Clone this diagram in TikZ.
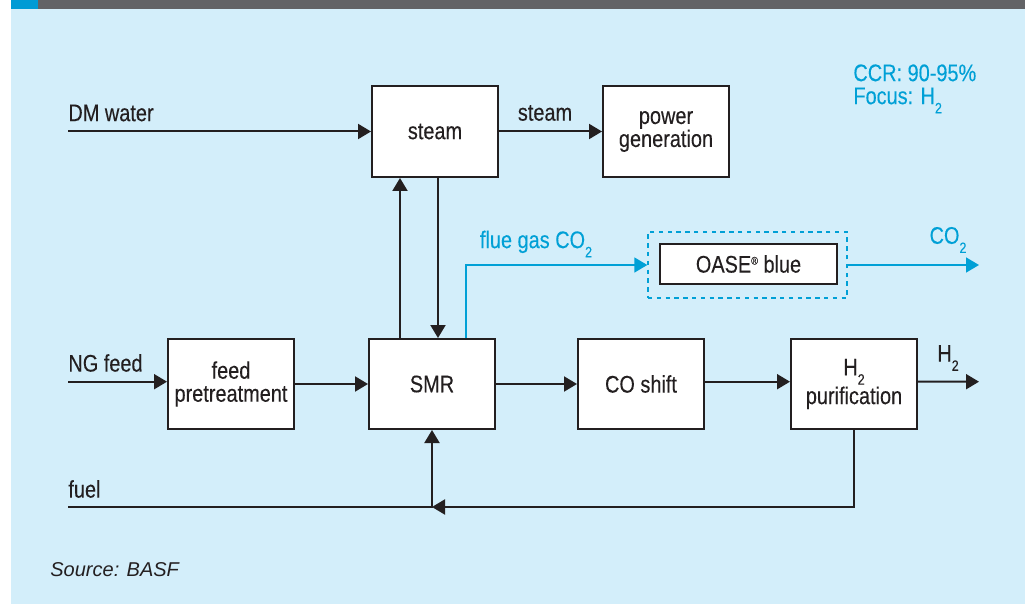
\documentclass[tikz,border=0pt]{standalone}
\usepackage{fontspec}
\setmainfont{Liberation Sans}[FakeStretch=0.83,FakeBold=0.2]
\newfontfamily\srcfont{Liberation Sans}
\usetikzlibrary{arrows.meta}
\definecolor{panel}{RGB}{211,238,250}
\definecolor{band}{RGB}{98,99,102}
\definecolor{tab}{RGB}{0,155,213}
\definecolor{ink}{RGB}{35,31,32}
\definecolor{gas}{RGB}{0,160,214}
\newcommand\lowtwo{\raisebox{-4.6pt}{\fontsize{7.5}{7.5}\selectfont 2}}
\newcommand\regmark{\raisebox{4pt}{\fontsize{5.5}{5.5}\selectfont\textregistered}}

\begin{document}
\begin{tikzpicture}[
  x=0.5pt,y=-0.5pt,
  font=\fontsize{12}{11.5}\selectfont,
  unit/.style={draw=ink,line width=1pt,fill=white,minimum width=63pt,minimum height=45.5pt,align=center,inner sep=1pt,text=ink},
  flow/.style={draw=ink,line width=1pt,-{Triangle[length=6.5pt,width=7.5pt]}},
  gasflow/.style={flow,draw=gas,line width=0.8pt},
  lbl/.style={inner sep=0pt,text=ink},
  note/.style={lbl,text=gas,align=left}
]
  % frame
  \useasboundingbox (0,0) rectangle (1031,604);
  \fill[white] (0,0) rectangle (1031,604);
  \fill[panel] (11,9) rectangle (1025,604);
  \fill[band] (11,0) rectangle (1025,9);
  \fill[tab] (11,0) rectangle (38,9);

  % units
  \node[unit] (steam) at (435,131.5) {steam};
  \node[unit] (power) at (666,131.5) {power\\generation};
  \node[unit,minimum height=45pt] (pretreat) at (231,384) {feed\\pretreatment};
  \node[unit,minimum height=45pt] (smr) at (432,384) {SMR};
  \node[unit,minimum height=45pt] (shift) at (641,384) {CO shift};
  \node[unit,minimum height=45pt] (purif) at (854,384) {H\lowtwo\\purification};
  \node[draw=gas,line width=0.7pt,dash pattern=on 2.2pt off 2.2pt,minimum width=99.5pt,minimum height=33pt] (capture) at (747.5,265) {};
  \node[unit,minimum width=88.5pt,minimum height=20pt] (oase) at (748.5,264) {OASE\regmark\ blue};

  % free ends
  \coordinate (dm) at (68,131.5);
  \coordinate (ng) at (68,381.7);
  \coordinate (fuel) at (68,507);
  \coordinate (fuelj) at (432,507);
  \coordinate (co2out) at (979,265);
  \coordinate (h2out) at (979,381.7);

  % streams
  \draw[flow] (dm) -- (steam.west);
  \draw[flow] (steam) -- (power);
  \draw[flow] ([xshift=-16pt]smr.north) -- ([xshift=-16pt]smr.north |- steam.south);
  \draw[flow] ([xshift=1.5pt]steam.south) -- ([xshift=1.5pt]steam.south |- smr.north);
  \draw[gasflow] ([xshift=17pt]smr.north) |- (capture.west);
  \draw[gasflow] (capture.east) -- (co2out);
  \draw[flow] (ng) -- (ng -| pretreat.west);
  \draw[flow] (pretreat) -- (smr);
  \draw[flow] (smr) -- (shift);
  \draw[flow] ([yshift=1.15pt]shift.east) -- ([yshift=1.15pt]purif.west);
  \draw[flow] ([yshift=1.15pt]purif.east) -- (h2out);
  \draw[flow] (purif.south) |- (fuelj);
  \draw[flow] (fuel) -- (fuelj) -- (smr.south);

  % labels
  \node[lbl,anchor=west] (dmlbl) at (68,113) {DM water};
  \node[lbl] (steamlbl) at (545,113) {steam};
  \node[lbl,text=gas] (fluelbl) at (536,244) {flue gas CO\lowtwo};
  \node[lbl,text=gas] (co2lbl) at (948,240) {CO\lowtwo};
  \node[lbl,anchor=west] (nglbl) at (68,363) {NG feed};
  \node[lbl] (h2lbl) at (948,358) {H\lowtwo};
  \node[lbl,anchor=west] (fuellbl) at (68,489) {fuel};
  \node[note,anchor=north west] (ccr) at (853,64) {CCR: 90-95\%\\Focus: H\lowtwo};
  \node[lbl,anchor=west,font=\srcfont\fontsize{10}{12}\selectfont\itshape] (src) at (50,570) {Source: BASF};
\end{tikzpicture}
\end{document}
